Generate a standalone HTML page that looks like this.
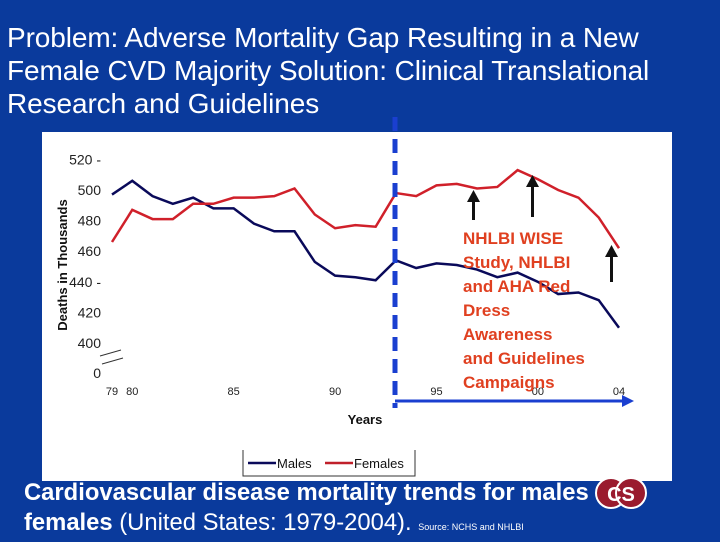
<!DOCTYPE html>
<html><head><meta charset="utf-8"><style>
body{margin:0;width:720px;height:540px;background:#0a3a9c;overflow:hidden;font-family:"Liberation Sans",sans-serif;position:relative}
.t{position:absolute;left:7px;top:21px;color:#fff;font-size:28px;line-height:33px;white-space:nowrap;letter-spacing:-0.1px}
.cap{position:absolute;left:24px;top:478px;color:#fff;font-size:23.8px;font-weight:bold;line-height:30px;white-space:nowrap}
</style></head><body>
<div class="t">Problem: Adverse Mortality Gap Resulting in a New<br>Female CVD Majority Solution: Clinical Translational<br>Research and Guidelines</div>
<svg width="720" height="540" style="position:absolute;left:0;top:0">
<rect x="42" y="132" width="630" height="349" fill="#fff"/>
<g id="ax" font-size="13" fill="#222"></g>
<text transform="translate(67,265) rotate(-90)" text-anchor="middle" font-size="13" font-weight="bold" fill="#111">Deaths in Thousands</text>
<text x="365" y="424" text-anchor="middle" font-size="13" font-weight="bold" fill="#111">Years</text>
<line x1="100" y1="356" x2="121" y2="350" stroke="#333"/>
<line x1="102" y1="364" x2="123" y2="358" stroke="#333"/>
<g id="lines"></g>
<line x1="395" y1="117" x2="395" y2="408" stroke="#1a3fd0" stroke-width="5" stroke-dasharray="14,8"/>
<line x1="395" y1="401" x2="625" y2="401" stroke="#1a3fd0" stroke-width="3"/>
<polygon points="622,395 634,401 622,407" fill="#1a3fd0"/>
<g fill="#111">
<rect x="472" y="200" width="3" height="20"/><polygon points="467,202 473.5,190 480,202"/>
<rect x="531" y="185" width="3" height="32"/><polygon points="526,187 532.5,175 539,187"/>
<rect x="610" y="255" width="3" height="27"/><polygon points="605,257 611.5,245 618,257"/>
</g>
<g font-size="17" font-weight="bold" fill="#e04020">
<text x="463" y="244">NHLBI WISE</text><text x="463" y="268">Study, NHLBI</text><text x="463" y="292">and AHA Red</text><text x="463" y="316">Dress</text><text x="463" y="340">Awareness</text><text x="463" y="364">and Guidelines</text><text x="463" y="388">Campaigns</text>
</g>
<path d="M243 450 V476 H415 V450" fill="none" stroke="#333"/>
<line x1="248" y1="463" x2="276" y2="463" stroke="#0a0a5a" stroke-width="2.5"/>
<text x="277" y="468" font-size="13" fill="#111">Males</text>
<line x1="325" y1="463" x2="353" y2="463" stroke="#c0202a" stroke-width="2.5"/>
<text x="354" y="468" font-size="13" fill="#111">Females</text>
</svg>
<div class="cap">Cardiovascular disease mortality trends for males<br>females <span style="font-weight:normal">(United States: 1979-2004).</span> <span style="font-size:9px;font-weight:normal">Source: NCHS and NHLBI</span></div>
<svg width="60" height="40" style="position:absolute;left:591px;top:474px"><circle cx="20" cy="19" r="15" fill="#9a1b2e" stroke="#fff" stroke-width="2"/><circle cx="40" cy="19" r="15" fill="#9a1b2e" stroke="#fff" stroke-width="2"/><text x="30" y="27" text-anchor="middle" font-size="20" font-weight="bold" fill="#fff" font-family="Liberation Sans">CS</text></svg>
<script>
const years=[79,80,81,82,83,84,85,86,87,88,89,90,91,92,93,94,95,96,97,98,99,100,101,102,103,104];
const males=[497,506,496,491,495,488,488,478,473,473,453,444,443,441,454,449,452,451,448,443,446,440,432,433,428,410];
const females=[466,487,481,481,491,491,495,495,496,501,484,475,477,476,498,496,503,504,501,502,513,507,500,495,482,462];
const yTicks=[520,500,480,460,440,420,400];
const xTicks=[[79,'79'],[80,'80'],[85,'85'],[90,'90'],[95,'95'],[100,'00'],[104,'04']];
const X=v=>112+(v-79)*20.28, Y=v=>190-(v-500)*1.53;
const ns='http://www.w3.org/2000/svg',ax=document.getElementById('ax'),lg=document.getElementById('lines');
function mk(t,a,p){const e=document.createElementNS(ns,t);for(const k in a)e.setAttribute(k,a[k]);p.appendChild(e);return e;}
yTicks.forEach(v=>{const e=mk('text',{x:101,y:Y(v)+5,'text-anchor':'end','font-size':14},ax);e.textContent=v+((v==520||v==440)?' -':'');

});
const z=mk('text',{x:101,y:378,'text-anchor':'end','font-size':14},ax);z.textContent='0';
xTicks.forEach(([v,l])=>{const e=mk('text',{x:X(v),y:395,'text-anchor':'middle','font-size':11},ax);e.textContent=l;

});
[[males,'#0a0a5a','males-line'],[females,'#d0202a','females-line']].forEach(([d,c,n])=>{
const p=mk('polyline',{points:d.map((v,i)=>X(years[i])+','+Y(v)).join(' '),fill:'none',stroke:c,'stroke-width':2.5},lg);

});
</script>
</body></html>
